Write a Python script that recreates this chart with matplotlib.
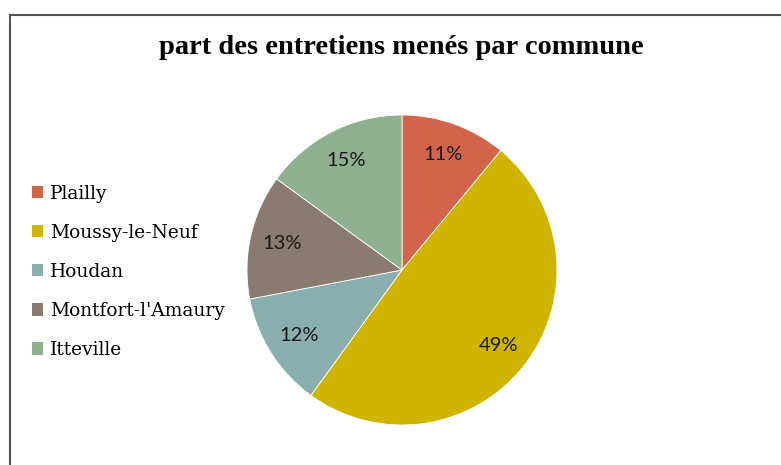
import matplotlib
matplotlib.use("Agg")
import matplotlib.pyplot as plt
from matplotlib.lines import Line2D
from matplotlib.patches import Patch

# interviews per commune (percent)
communes = ["Plailly", "Moussy-le-Neuf", "Houdan", "Montfort-l'Amaury", "Itteville"]
parts = [11, 49, 12, 13, 15]
colors = ["#D1644B", "#CFB400", "#8AADAE", "#8B7A70", "#8FB08E"]

W, H = 781, 465
fig = plt.figure(figsize=(W / 100, H / 100), dpi=100)

# frame around the chart (left and top edges visible)
fig.add_artist(Line2D([9.5 / W, 9.5 / W], [0, 1 - 15.5 / H], transform=fig.transFigure,
                      color="#555555", lw=1.5))
fig.add_artist(Line2D([9.5 / W, 1], [1 - 15.5 / H, 1 - 15.5 / H], transform=fig.transFigure,
                      color="#555555", lw=1.5))

fig.text(401 / W, 1 - 47 / H, "part des entretiens menés par commune",
         ha="center", va="center", fontsize=20.5, fontweight="bold",
         family="Liberation Serif")

cx, cy, r = 402, 270, 155
ax = fig.add_axes([(cx - r) / W, (H - cy - r) / H, 2 * r / W, 2 * r / H])
wedges, texts, autotexts = ax.pie(parts, colors=colors, startangle=90, counterclock=False,
                                  autopct="%1.0f%%", pctdistance=0.79,
                                  wedgeprops=dict(linewidth=0.6, edgecolor="white"),
                                  textprops=dict(fontsize=14.5, color="#1a1a1a",
                                                 family="Lato"))
ax.set_xlim(-1, 1)
ax.set_ylim(-1, 1)
ax.axis("off")

handles = [Patch(facecolor=c, edgecolor="none") for c in colors]
fig.legend(handles, communes, loc="center left", bbox_to_anchor=(15 / W, 1 - 272 / H),
           frameon=False, prop=dict(family="DejaVu Serif", size=13.4),
           handlelength=0.62, handleheight=0.62, handletextpad=0.38, labelspacing=1.13)

fig.savefig("out.png", dpi=100, facecolor="white")
